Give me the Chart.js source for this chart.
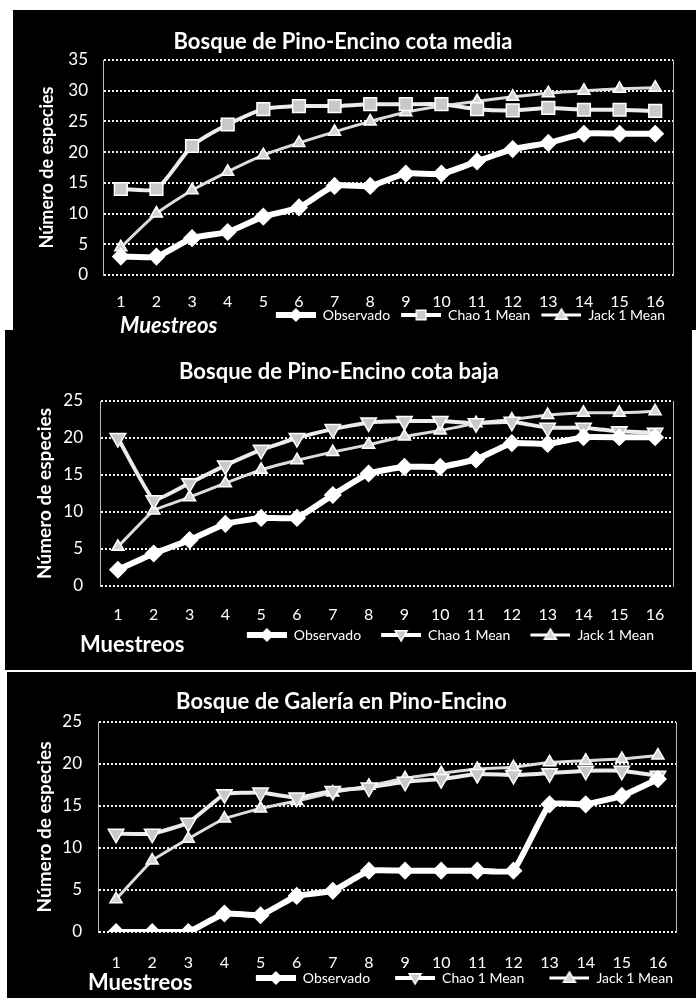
<!DOCTYPE html>
<html>
<head>
<meta charset="utf-8">
<script src="https://cdn.jsdelivr.net/npm/chart.js@4.4.1/dist/chart.umd.min.js"></script>
<style>
  body { margin: 0; background: #fff; width: 696px; height: 998px; position: relative; overflow: hidden; }
  .panel { position: absolute; background: #000; overflow: visible; }
  canvas { position: absolute; left: 0; top: 0; }
</style>
</head>
<body>
<div class="panel" style="left:5px;top:330px;width:687px;height:340px;z-index:1">
  <canvas id="baja" width="687" height="340"></canvas>
</div>
<div class="panel" style="left:13px;top:10px;width:683px;height:320px;z-index:2">
  <canvas id="media" width="683" height="330"></canvas>
</div>
<div class="panel" style="left:7px;top:672px;width:689px;height:326px;z-index:1">
  <canvas id="galeria" width="689" height="326"></canvas>
</div>
<script>
const muestreos = ['1', '2', '3', '4', '5', '6', '7', '8', '9', '10', '11', '12', '13', '14', '15', '16'];
const seriesNames = ['Observado', 'Chao 1 Mean', 'Jack 1 Mean'];
const yTitle = 'Número de especies';
const xTitle = 'Muestreos';

// cota media
const mediaObservado = [3, 3, 6, 7, 9.5, 11, 14.5, 14.5, 16.5, 16.5, 18.5, 20.5, 21.5, 23, 23, 23];
const mediaChao = [14, 14, 21, 24.5, 27, 27.5, 27.5, 27.8, 27.8, 27.8, 27, 26.8, 27.2, 26.9, 26.9, 26.7];
const mediaJack = [4.5, 10, 13.8, 16.8, 19.5, 21.5, 23.3, 25, 26.5, 27.5, 28.3, 29, 29.6, 30, 30.3, 30.5];

// cota baja
const bajaObservado = [2.2, 4.4, 6.2, 8.4, 9.2, 9.2, 12.3, 15.2, 16.1, 16.1, 17.1, 19.3, 19.2, 20.1, 20.1, 20.1];
const bajaChao = [20, 11.6, 13.9, 16.3, 18.4, 20, 21.2, 22.1, 22.3, 22.3, 22, 22.2, 21.4, 21.4, 20.9, 20.7];
const bajaJack = [5.3, 10.2, 12, 13.9, 15.7, 17, 18.1, 19.1, 20.2, 21, 22, 22.5, 23.1, 23.4, 23.4, 23.6];

// galeria
const galeriaObservado = [0, 0, 0, 2.2, 2, 4.3, 4.9, 7.3, 7.3, 7.3, 7.3, 7.3, 15.2, 15.2, 16.2, 18.2];
const galeriaChao = [11.7, 11.7, 13, 16.4, 16.6, 16, 16.8, 17.2, 17.9, 18.2, 18.8, 18.7, 18.9, 19.2, 19.2, 18.6];
const galeriaJack = [3.9, 8.5, 11.1, 13.5, 14.7, 15.6, 16.6, 17.4, 18.3, 18.9, 19.4, 19.6, 20.2, 20.4, 20.6, 21];

Chart.defaults.font.family = "Lato, 'Open Sans', sans-serif";
Chart.defaults.color = '#fff';

const lineWidths = [6, 4, 3];
const lineColors = ['#ffffff', '#ececec', '#dcdcdc'];
const markerFill = ['#ffffff', '#c8c8c8', '#d4d4d4'];
const markerRadius = [8, 9, 7];
const legendFont = 14;

// small legend icon: line with the marker in the middle
function legendIcon(shape, boxW, lineLen, lineW, fill) {
    const c = document.createElement('canvas');
    c.width = boxW;
    c.height = 18;
    const g = c.getContext('2d');
    g.strokeStyle = '#fff';
    g.lineWidth = lineW;
    g.beginPath();
    g.moveTo(boxW - lineLen, 9);
    g.lineTo(boxW, 9);
    g.stroke();
    const cx = boxW - lineLen / 2, cy = 9, r = 6;
    g.fillStyle = fill;
    g.lineWidth = 1.5;
    g.beginPath();
    if (shape === 'rectRot') {
        g.moveTo(cx, cy - r); g.lineTo(cx + r, cy); g.lineTo(cx, cy + r); g.lineTo(cx - r, cy);
    } else if (shape === 'rect') {
        g.rect(cx - r * 0.8, cy - r * 0.8, r * 1.6, r * 1.6);
    } else if (shape === 'down') {
        g.moveTo(cx - r, cy - r * 0.7); g.lineTo(cx + r, cy - r * 0.7); g.lineTo(cx, cy + r);
    } else {
        g.moveTo(cx, cy - r); g.lineTo(cx + r, cy + r * 0.7); g.lineTo(cx - r, cy + r * 0.7);
    }
    g.closePath();
    g.fill();
    g.stroke();
    return c;
}

const muestreosPlugin = {
    id: 'muestreos',
    afterDraw(chart, args, o) {
        const ctx = chart.ctx;
        ctx.save();
        ctx.fillStyle = '#fff';
        ctx.font = (o.italic ? 'italic ' : '') + "bold 22px Lato, 'Open Sans', sans-serif";
        ctx.textBaseline = 'middle';
        ctx.textAlign = 'left';
        ctx.fillText(xTitle, o.x, o.y);
        ctx.restore();
    }
};

function makePanel(id, title, series, yMax, shapes, tension, geo) {
    const canvas = document.getElementById(id);
    const W = canvas.width, H = canvas.height;
    const titleLH = 22 * 1.2;
    // one legend row: font + padding + 10 (Chart.js legend fit)
    const legH = legendFont + geo.legPad + 10;
    const padB = H - geo.bottom - geo.xH - legH;
    const icons = shapes.map((s, i) => legendIcon(s, geo.iconW, 40, lineWidths[i], markerFill[i]));
    return new Chart(canvas, {
        type: 'line',
        data: {
            labels: muestreos,
            datasets: series.map((vals, i) => ({
                label: seriesNames[i],
                data: vals,
                borderColor: lineColors[i],
                borderWidth: lineWidths[i],
                pointStyle: shapes[i] === 'down' ? 'triangle' : shapes[i],
                rotation: shapes[i] === 'down' ? 180 : 0,
                pointRadius: markerRadius[i],
                pointBackgroundColor: markerFill[i],
                pointBorderColor: '#fff',
                pointBorderWidth: 1.5,
                tension: tension
            }))
        },
        options: {
            responsive: false,
            animation: false,
            devicePixelRatio: 1,
            layout: { padding: { left: 0, top: 0, right: W - geo.right, bottom: padB } },
            plugins: {
                title: {
                    display: true,
                    text: title,
                    color: '#fff',
                    font: { size: 22, weight: 'bold' },
                    padding: { top: geo.titleY - titleLH / 2, bottom: geo.top - geo.titleY - titleLH / 2 }
                },
                legend: {
                    position: 'bottom',
                    align: 'end',
                    maxHeight: legH,
                    onClick: (e) => e.stopPropagation(),
                    labels: {
                        usePointStyle: true,
                        pointStyleWidth: geo.iconW,
                        padding: geo.legPad,
                        color: '#fff',
                        font: { size: legendFont },
                        generateLabels: (chart) => chart.data.datasets.map((ds, i) => ({
                            text: ds.label,
                            pointStyle: icons[i],
                            fontColor: '#fff',
                            fillStyle: 'transparent',
                            strokeStyle: 'transparent',
                            lineWidth: 0,
                            hidden: false,
                            datasetIndex: i
                        }))
                    }
                },
                tooltip: { enabled: false },
                muestreos: geo.caption
            },
            scales: {
                x: {
                    offset: true,
                    grid: { display: false, drawTicks: false },
                    border: { display: false },
                    // mirror keeps the labels from being clipped to the short axis box
                    ticks: { color: '#fff', font: { size: 16 }, mirror: true, padding: -(geo.xTickY + 9.6), maxRotation: 0, autoSkip: false },
                    afterFit: (s) => { s.height = geo.xH; }
                },
                y: {
                    min: 0,
                    max: yMax,
                    ticks: { stepSize: 5, color: '#fff', font: { size: 17 }, padding: geo.yTickPad },
                    grid: { color: '#f2f2f2', lineWidth: 2, drawTicks: false },
                    border: { color: '#bdbdbd', width: 1, dash: [2, 2] },
                    title: {
                        display: true,
                        text: yTitle,
                        color: '#fff',
                        font: { size: geo.yTitleSize, weight: 'bold' },
                        padding: { top: geo.yTitleX - geo.yTitleSize * 0.6, bottom: 0 }
                    },
                    afterFit: (s) => { s.width = geo.left; }
                },
                y2: {
                    position: 'right',
                    min: 0,
                    max: yMax,
                    ticks: { display: false },
                    grid: { display: false, drawTicks: false },
                    border: { color: '#bdbdbd', width: 1, dash: [2, 2] },
                    afterFit: (s) => { s.width = 0; }
                }
            }
        },
        plugins: [muestreosPlugin]
    });
}

makePanel('media', 'Bosque de Pino-Encino cota media',
    [mediaObservado, mediaChao, mediaJack], 35, ['rectRot', 'rect', 'triangle'], 0.2,
    { left: 90, right: 660, top: 50, bottom: 265, titleY: 32, xTickY: 27, yTickPad: 15, yTitleX: 34, yTitleSize: 18,
      xH: 25, legPad: 8, iconW: 43, caption: { x: 107, y: 316, italic: true } });

makePanel('baja', 'Bosque de Pino-Encino cota baja',
    [bajaObservado, bajaChao, bajaJack], 25, ['rectRot', 'down', 'triangle'], 0.1,
    { left: 95, right: 668, top: 71, bottom: 256, titleY: 42, xTickY: 29, yTickPad: 17, yTitleX: 40, yTitleSize: 19,
      xH: 23, legPad: 19, iconW: 41, caption: { x: 75, y: 315, italic: false } });

makePanel('galeria', 'Bosque de Galería en Pino-Encino',
    [galeriaObservado, galeriaChao, galeriaJack], 25, ['rectRot', 'down', 'triangle'], 0.1,
    { left: 91, right: 669, top: 50, bottom: 260, titleY: 30, xTickY: 31, yTickPad: 16, yTitleX: 38, yTitleSize: 19,
      xH: 36, legPad: 3, iconW: 62, caption: { x: 81, y: 311, italic: false } });
</script>
</body>
</html>
